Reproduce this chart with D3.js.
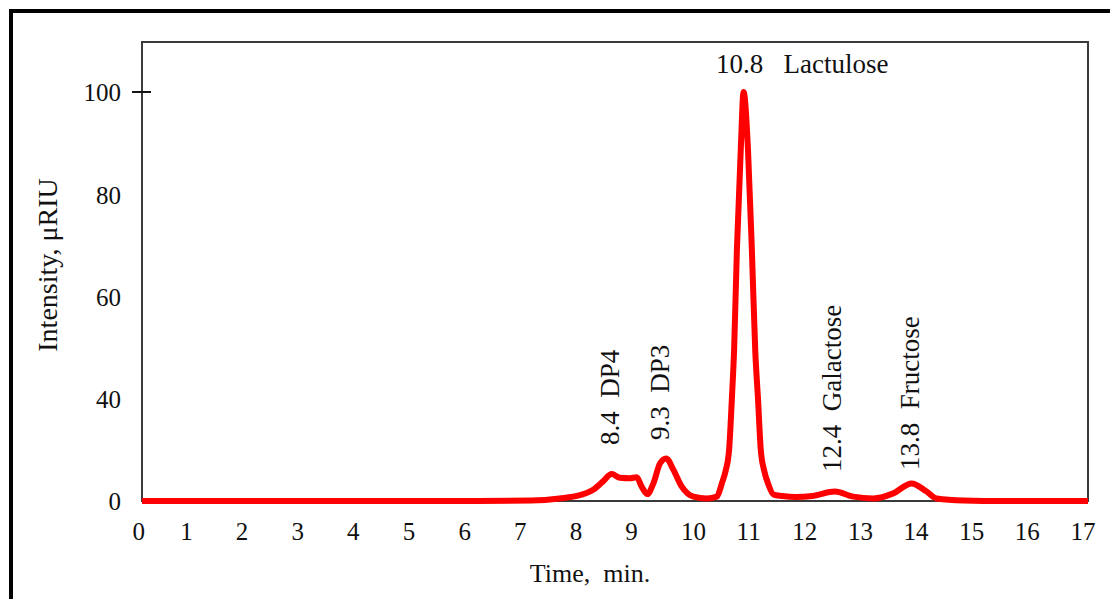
<!DOCTYPE html>
<html>
<head>
<meta charset="utf-8">
<script src="https://cdn.jsdelivr.net/npm/d3@7"></script>
<style>
  body { margin: 0; background: #fff; }
  text { font-family: "Liberation Serif", "Times New Roman", serif; fill: #111; }
</style>
</head>
<body>
<svg id="chart" width="1110" height="599"></svg>
<script>
// retention time (min) and detector response
const times = [0, 1, 2, 3, 4, 5, 6, 7, 7.5, 7.87, 8.1, 8.28, 8.44, 8.59, 8.77, 8.89, 8.98, 9.08,
  9.19, 9.31, 9.42, 9.55, 9.7, 9.91, 10.15, 10.33, 10.42, 10.49, 10.55, 10.6, 10.64, 10.69, 10.76,
  10.81, 10.89, 10.96, 11.02, 11.07, 11.12, 11.18, 11.25, 11.35, 11.5, 11.75, 12.05, 12.45, 12.78,
  13.14, 13.5, 13.83, 14.1, 14.28, 14.76, 15.5, 16, 17];
const intensity = [0, 0, 0, 0, 0, 0, 0, 0.2, 1.0, 2.3, 4.3, 7.6, 10.6, 9.1, 8.9, 9.3, 5.6, 2.7,
  6.9, 14.8, 16.7, 12.2, 5.6, 1.7, 1.0, 1.7, 6.9, 12, 20, 40, 49.5, 69, 88.7,
  100, 88.7, 69, 49.5, 40, 20, 12, 6.9, 2.5, 2.0, 1.6, 2.0, 3.7, 1.7,
  1.0, 3.0, 6.9, 3.7, 1.0, 0.2, 0, 0, 0];

const xTicks = d3.range(0, 18);
const yTicks = [0, 40, 60, 80, 100];

const peakTimes = [8.4, 9.3, 12.4, 13.8];
const peakNames = ['DP4', 'DP3', 'Galactose', 'Fructose'];
const mainPeak = { time: 10.8, name: 'Lactulose' };

const svg = d3.select('#chart');
const plot = { left: 142, right: 1088, top: 42, bottom: 501 };

// the printed y axis is not linear below 40, so the scale follows the printed ticks
const x = d3.scaleLinear().domain([0, 17]).range([plot.left, plot.right]);
const y = d3.scaleLinear().domain([0, 40, 110]).range([plot.bottom, 399, 40.8]);

// outer frame (runs off the right and bottom edges)
svg.append('rect')
  .attr('x', 11).attr('y', 11)
  .attr('width', 1200).attr('height', 700)
  .attr('fill', 'none')
  .attr('stroke', '#000')
  .attr('stroke-width', 4);

// plot box
svg.append('rect')
  .attr('x', plot.left).attr('y', plot.top)
  .attr('width', plot.right - plot.left).attr('height', plot.bottom - plot.top)
  .attr('fill', 'none')
  .attr('stroke', '#3a3a3a')
  .attr('stroke-width', 2);

// x axis labels
svg.append('g')
  .attr('transform', `translate(0,${plot.bottom})`)
  .call(d3.axisBottom(x).tickValues(xTicks).tickSize(0).tickFormat(d3.format('d')))
  .call(g => g.select('.domain').remove())
  .call(g => g.selectAll('text')
    .attr('y', 39)
    .attr('dy', 0)
    .attr('dx', d => d === 0 ? -10 : -18)
    .attr('text-anchor', 'start')
    .attr('fill', '#111')
    .style('font-size', '25px')
    .style('font-family', '"Liberation Serif", serif'));

// y axis labels, only the top one has a tick mark
svg.append('g')
  .attr('transform', `translate(${plot.left},0)`)
  .call(d3.axisLeft(y).tickValues(yTicks).tickSize(0))
  .call(g => g.select('.domain').remove())
  .call(g => g.selectAll('text')
    .attr('x', -21)
    .attr('dy', '0.35em')
    .attr('fill', '#111')
    .style('font-size', '25px')
    .style('font-family', '"Liberation Serif", serif'));

svg.append('line')
  .attr('x1', plot.left - 10).attr('x2', plot.left + 9)
  .attr('y1', y(100)).attr('y2', y(100))
  .attr('stroke', '#111')
  .attr('stroke-width', 2);

// axis titles
svg.append('text')
  .attr('x', 590).attr('y', 582)
  .attr('text-anchor', 'middle')
  .style('font-size', '26px')
  .style('white-space', 'pre')
  .text('Time,  min.');

svg.append('text')
  .attr('transform', 'translate(47,265) rotate(-90)')
  .attr('dy', '0.35em')
  .attr('text-anchor', 'middle')
  .style('font-size', '28px')
  .text('Intensity, μRIU');

// chromatogram trace
const line = d3.line()
  .x((d, i) => x(times[i]))
  .y(d => y(d))
  .curve(d3.curveMonotoneX);

svg.append('path')
  .datum(intensity)
  .attr('d', line)
  .attr('fill', 'none')
  .attr('stroke', '#ff0000')
  .attr('stroke-width', 6)
  .attr('stroke-linejoin', 'round');

// peak labels
const labelBase = [445, 440, 472, 470];
svg.selectAll('.peak-label')
  .data(peakTimes)
  .enter().append('text')
  .attr('class', 'peak-label')
  .attr('transform', (d, i) => `translate(${x(d)},${labelBase[i]}) rotate(-90)`)
  .attr('dy', '0.35em')
  .attr('text-anchor', 'start')
  .style('font-size', '27px')
  .style('white-space', 'pre')
  .text((d, i) => `${d}  ${peakNames[i]}`);

svg.append('text')
  .attr('x', 716).attr('y', 73)
  .attr('text-anchor', 'start')
  .style('font-size', '27px')
  .style('white-space', 'pre')
  .text(`${mainPeak.time}   ${mainPeak.name}`);
</script>
</body>
</html>
